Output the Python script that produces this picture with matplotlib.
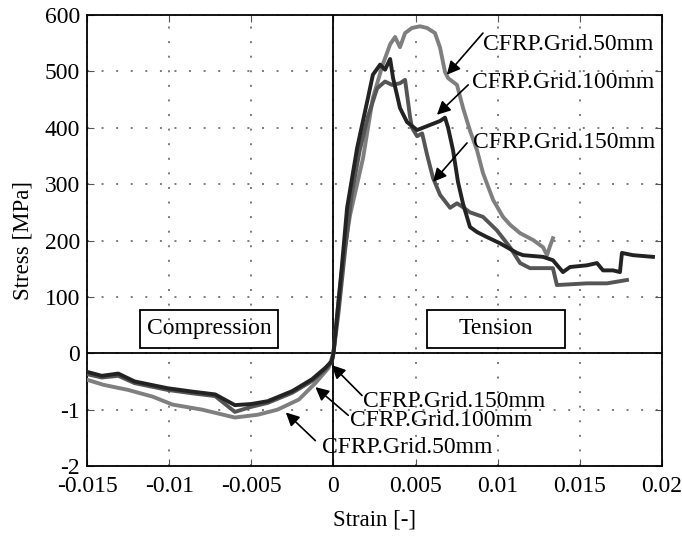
import numpy as np
import matplotlib
matplotlib.use("Agg")
import matplotlib.pyplot as plt
from matplotlib.patches import Rectangle

plt.rcParams['font.family'] = ['Liberation Serif', 'DejaVu Serif']
plt.rcParams['axes.unicode_minus'] = False

# strain [-] and stress; tension in MPa, compression in the lower (-1, -2) units
strain_50 = [-0.015, -0.0140, -0.0125, -0.0110, -0.0098, -0.0080, -0.0060, -0.0046,
             -0.0034, -0.0021, -0.0011, -0.0003, 0.0, 0.0003, 0.0006, 0.00101,
             0.0018, 0.0024, 0.0030, 0.00345, 0.00375, 0.00405, 0.00436, 0.00478,
             0.00527, 0.0057, 0.00618, 0.00649, 0.00679, 0.00698, 0.00752, 0.00789,
             0.00831, 0.00874, 0.0091, 0.00972, 0.01032, 0.01075, 0.01136, 0.01215,
             0.01276, 0.0130, 0.01318, 0.01336]
stress_50 = [-0.47, -0.56, -0.65, -0.77, -0.91, -1.00, -1.14, -1.09,
             -1.00, -0.82, -0.53, -0.26, 0, 90, 170, 245,
             346, 453, 512, 548, 561, 543, 568, 577,
             580, 577, 568, 542, 499, 488, 476, 435,
             395, 360, 320, 272, 242, 228, 213, 201,
             188, 174, 190, 204]

strain_100 = [-0.015, -0.0141, -0.0131, -0.0121, -0.0101, -0.0086, -0.0072, -0.0060,
              -0.0050, -0.0040, -0.0025, -0.0013, -0.0005, -0.0001, 0.0, 0.0002,
              0.0005, 0.00083, 0.00144, 0.00205, 0.0024, 0.00284, 0.00314, 0.00345,
              0.00363, 0.00387, 0.00405, 0.00448, 0.00509, 0.00527, 0.00588, 0.00649,
              0.00679, 0.00698, 0.00728, 0.00758, 0.00789, 0.00831, 0.00874, 0.00935,
              0.01014, 0.01117, 0.01154, 0.01276, 0.01336, 0.01397, 0.0144, 0.01543,
              0.01604, 0.01641, 0.01702, 0.01744, 0.01756, 0.01823, 0.01945]
stress_100 = [-0.33, -0.40, -0.36, -0.50, -0.62, -0.68, -0.73, -0.92,
              -0.90, -0.85, -0.67, -0.46, -0.26, -0.14, 0, 60,
              150, 258, 364, 446, 494, 512, 503, 522,
              488, 458, 435, 410, 396, 398, 405, 412,
              418, 400, 360, 304, 265, 224, 215, 206,
              195, 178, 174, 171, 165, 144, 153, 156,
              160, 147, 147, 144, 178, 174, 171]

strain_150 = [-0.015, -0.0141, -0.0131, -0.0121, -0.0101, -0.0086, -0.0072, -0.0060,
              -0.0050, -0.0040, -0.0025, -0.0013, -0.0005, -0.0001, 0.0, 0.0003,
              0.0007, 0.0011, 0.0016, 0.0021, 0.00266, 0.00314, 0.00357, 0.00405,
              0.00436, 0.00466, 0.00478, 0.00509, 0.0054, 0.0057, 0.00606, 0.00649,
              0.0071, 0.00752, 0.00789, 0.00831, 0.0091, 0.00995, 0.01075, 0.01136,
              0.01196, 0.01336, 0.0136, 0.01543, 0.01665, 0.01787]
stress_150 = [-0.37, -0.43, -0.40, -0.53, -0.65, -0.71, -0.76, -1.04,
              -0.95, -0.88, -0.70, -0.49, -0.29, -0.15, 0, 70,
              180, 280, 360, 420, 470, 482, 476, 479,
              485, 420, 400, 385, 390, 352, 311, 281,
              258, 266, 259, 250, 242, 218, 188, 160,
              151, 151, 121, 124, 124, 130]

x_ticks = [-0.015, -0.01, -0.005, 0, 0.005, 0.01, 0.015, 0.02]
x_labels = ['-0.015', '-0.01', '-0.005', '0', '0.005', '0.01', '0.015', '0.02']
y_ticks = [-2, -1, 0, 100, 200, 300, 400, 500, 600]
y_labels = ['-2', '-1', '0', '100', '200', '300', '400', '500', '600']


# compression part is drawn 100x stretched below zero
def fwd(y):
    y = np.asarray(y, dtype=float)
    return np.where(y < 0, y * 100.0, y)


def inv(v):
    v = np.asarray(v, dtype=float)
    return np.where(v < 0, v / 100.0, v)


fig = plt.figure(figsize=(6.82, 5.38), dpi=100)
ax = fig.add_axes([0.1276, 0.1338, 0.8431, 0.8383])
ax.set_yscale('function', functions=(fwd, inv))

ax.plot(strain_50, stress_50, color='#7f7f7f', lw=2.8, zorder=3)
ax.plot(strain_150, stress_150, color='#555555', lw=2.8, zorder=4)
ax.plot(strain_100, stress_100, color='#232323', lw=2.8, zorder=5)

ax.axhline(0, color='black', lw=1.3, zorder=2)
ax.axvline(0, color='black', lw=1.3, zorder=2)

ax.set_xlim(-0.015, 0.02)
ax.set_ylim(-2, 600)
ax.set_xticks(x_ticks)
ax.set_xticklabels(x_labels)
ax.set_yticks(y_ticks)
ax.set_yticklabels(y_labels)
ax.grid(True, color='#7a7a7a', lw=1.4, linestyle=(0, (1, 6.5)))
ax.tick_params(direction='in', top=True, right=True, length=5, labelsize=17,
               color='#555555')
ax.tick_params(axis='x', pad=7)
ax.tick_params(axis='y', pad=5)
for s in ax.spines.values():
    s.set_linewidth(1.3)

ax.set_xlabel('Strain [-]', fontsize=16.5, labelpad=9)
ax.set_ylabel('Stress [MPa]', fontsize=16.5, labelpad=8)

# region boxes
for x0, label in [(0.092, 'Compression'), (0.591, 'Tension')]:
    ax.add_patch(Rectangle((x0, 0.262), 0.24, 0.084, transform=ax.transAxes,
                           fill=False, ec='black', lw=1.3, zorder=6))
    ax.text(x0 + 0.12, 0.304, label, transform=ax.transAxes, ha='center',
            va='center', fontsize=17, zorder=7)

# labels with arrows: (text left x, text y, arrow start, arrow tip)
notes = [
    ('CFRP.Grid.50mm', 0.0091, 547, (0.0091, 568), (0.0069, 494)),
    ('CFRP.Grid.100mm', 0.00844, 481, (0.0082, 476), (0.0063, 423)),
    ('CFRP.Grid.150mm', 0.0085, 373, (0.00813, 373), (0.00606, 304)),
    ('CFRP.Grid.150mm', 0.0018, -0.86, (0.00174, -0.75), (-0.0001, -0.21)),
    ('CFRP.Grid.100mm', 0.0010, -1.20, (0.0009, -1.10), (-0.0011, -0.60)),
    ('CFRP.Grid.50mm', -0.0007, -1.67, (-0.0011, -1.55), (-0.0029, -1.05)),
]
for label, tx, ty, start, tip in notes:
    ax.text(tx, ty, label, ha='left', va='center', fontsize=17, zorder=8)
    ax.annotate('', xy=tip, xytext=start,
                arrowprops=dict(arrowstyle='-|>', color='black', lw=1.2,
                                mutation_scale=20, shrinkA=0, shrinkB=0),
                zorder=8)

plt.savefig('out.png', dpi=100, facecolor='white')
